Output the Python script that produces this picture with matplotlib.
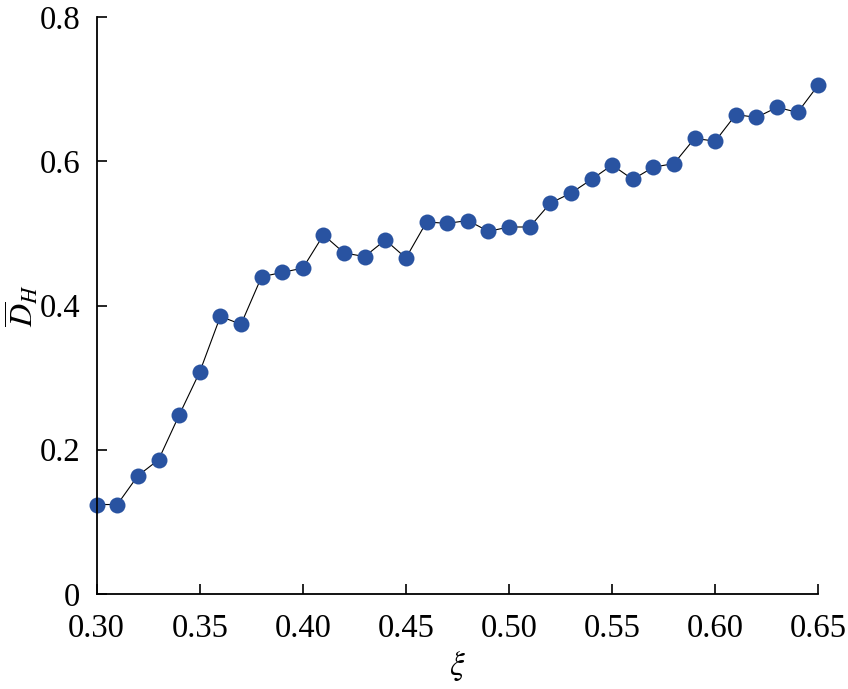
import numpy as np
import matplotlib
matplotlib.use("Agg")
import matplotlib.pyplot as plt

# --- data ---
xi = [0.30, 0.31, 0.32, 0.33, 0.34, 0.35, 0.36, 0.37, 0.38, 0.39,
      0.40, 0.41, 0.42, 0.43, 0.44, 0.45, 0.46, 0.47, 0.48, 0.49,
      0.50, 0.51, 0.52, 0.53, 0.54, 0.55, 0.56, 0.57, 0.58, 0.59,
      0.60, 0.61, 0.62, 0.63, 0.64, 0.65]
d_h = [0.124, 0.124, 0.164, 0.186, 0.248, 0.308, 0.385, 0.374, 0.440, 0.446,
       0.452, 0.498, 0.473, 0.468, 0.491, 0.466, 0.516, 0.514, 0.518, 0.503,
       0.509, 0.509, 0.542, 0.556, 0.575, 0.595, 0.575, 0.592, 0.597, 0.632,
       0.628, 0.665, 0.661, 0.675, 0.668, 0.706]
x_ticks = [0.30, 0.35, 0.40, 0.45, 0.50, 0.55, 0.60, 0.65]
x_tick_labels = ["0.30", "0.35", "0.40", "0.45", "0.50", "0.55", "0.60", "0.65"]
y_ticks = [0, 0.2, 0.4, 0.6, 0.8]
y_tick_labels = ["0", "0.2", "0.4", "0.6", "0.8"]

plt.rcParams['font.family'] = ['Liberation Serif', 'DejaVu Serif']
plt.rcParams['mathtext.fontset'] = 'stix'

fig = plt.figure(figsize=(8.48, 6.89), dpi=100)
ax = fig.add_axes([0.114, 0.138, 0.851, 0.837])

ax.plot(xi, d_h, color='black', lw=0.8, zorder=1)
ax.plot(xi, d_h, 'o', color='#2953a1', ms=11.5, mec='none', zorder=2, clip_on=False)

ax.set_xlim(0.30, 0.65)
ax.set_ylim(0, 0.8)
ax.set_xticks(x_ticks)
ax.set_xticklabels(x_tick_labels)
ax.set_yticks(y_ticks)
ax.set_yticklabels(y_tick_labels)
ax.tick_params(direction='in', length=7, width=1.2, labelsize=23.5)
ax.tick_params(axis='x', pad=14)
ax.tick_params(axis='y', pad=12)

for side in ['top', 'right']:
    ax.spines[side].set_visible(False)
for side in ['left', 'bottom']:
    ax.spines[side].set_linewidth(1.3)

ax.set_xlabel(r'$\xi$', fontsize=24, labelpad=4)
ax.set_ylabel(r'$\overline{D}_H$', fontsize=23)
ax.yaxis.set_label_coords(-0.078, 0.5)

fig.savefig("out.png", dpi=100)
